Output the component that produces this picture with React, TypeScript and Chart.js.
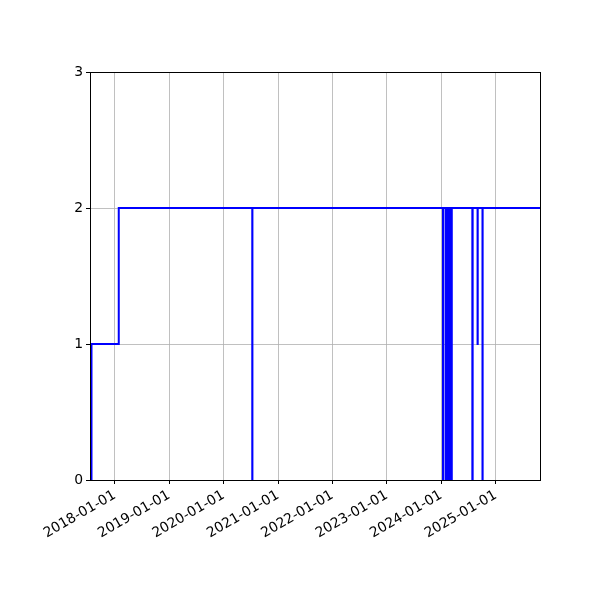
import React, { useEffect, useRef } from 'react';
import { Chart, registerables } from 'chart.js';

Chart.register(...registerables);

// change points: each value holds from its date until the next date
const changeDates = [
  '2017-07-19', '2017-07-29', '2018-01-28',
  '2020-07-12', '2020-07-13',
  '2024-01-13', '2024-01-14',
  '2024-01-31', '2024-02-02', '2024-02-05', '2024-02-08', '2024-02-11', '2024-02-14',
  '2024-02-17', '2024-02-20', '2024-02-23', '2024-02-26', '2024-02-29', '2024-03-03',
  '2024-03-06', '2024-03-08', '2024-03-10', '2024-03-12',
  '2024-07-28', '2024-07-30',
  '2024-09-01', '2024-09-02',
  '2024-10-04', '2024-10-05',
  '2025-10-25',
];
const changeValues = [
  0, 1, 2,
  0, 2,
  0, 2,
  0, 2, 0, 2, 0, 2,
  0, 2, 0, 2, 0, 2,
  0, 2, 0, 2,
  0, 2,
  1, 2,
  0, 2,
  2,
];
const yTicks = [0, 1, 2, 3];
const xTickYears = [2018, 2019, 2020, 2021, 2022, 2023, 2024, 2025];

const DAY = 86400000;
const toDay = (s: string) => {
  const [y, m, d] = s.split('-').map(Number);
  return Date.UTC(y, m - 1, d) / DAY;
};
const fmt = (v: number) => new Date(Math.round(v) * DAY).toISOString().slice(0, 10);

const framePlugin = {
  id: 'frame',
  afterDraw(chart: any) {
    const { ctx, chartArea } = chart;
    const { left, top, right, bottom } = chartArea;
    ctx.save();
    ctx.strokeStyle = '#000';
    ctx.lineWidth = 1;
    ctx.strokeRect(Math.round(left) + 0.5, Math.round(top) + 0.5, Math.round(right - left), Math.round(bottom - top));
    ctx.restore();
  },
};

export default function App() {
  const ref = useRef<HTMLCanvasElement | null>(null);
  useEffect(() => {
    if (!ref.current) return;
    const pts = changeDates.map((d, i) => ({ x: toDay(d), y: changeValues[i] }));
    const font = { family: 'DejaVu Sans', size: 13.9 };
    const chart = new Chart(ref.current, {
      type: 'line',
      data: {
        datasets: [
          {
            data: pts,
            borderColor: '#0000ff',
            borderWidth: 2,
            pointRadius: 0,
            stepped: 'before',
            fill: false,
            tension: 0,
          },
        ],
      },
      options: {
        animation: false,
        responsive: true,
        maintainAspectRatio: false,
        layout: { padding: { top: 72, right: 60, left: 0, bottom: 0 } },
        plugins: { legend: { display: false }, tooltip: { enabled: false } },
        scales: {
          x: {
            type: 'linear',
            bounds: 'data',
            min: toDay(changeDates[0]),
            max: toDay(changeDates[changeDates.length - 1]),
            afterBuildTicks: (s: any) => {
              s.ticks = xTickYears.map((y) => ({ value: Date.UTC(y, 0, 1) / DAY }));
            },
            afterFit: (s: any) => {
              s.height = 120;
            },
            grid: { color: '#b0b0b0', lineWidth: 0.8, tickColor: '#000', tickLength: 4, tickWidth: 1 },
            border: { color: '#000', width: 1 },
            ticks: {
              autoSkip: false,
              minRotation: 30,
              maxRotation: 30,
              padding: 3,
              color: '#000',
              font,
              callback: (v: any) => fmt(Number(v)),
            },
          },
          y: {
            type: 'linear',
            min: 0,
            max: 3,
            afterBuildTicks: (s: any) => {
              s.ticks = yTicks.map((v) => ({ value: v }));
            },
            afterFit: (s: any) => {
              s.width = 90;
            },
            grid: { color: '#b0b0b0', lineWidth: 0.8, tickColor: '#000', tickLength: 4, tickWidth: 1 },
            border: { color: '#000', width: 1 },
            ticks: { padding: 3, color: '#000', font, callback: (v: any) => String(v) },
          },
        },
      },
      plugins: [framePlugin],
    } as any);
    return () => chart.destroy();
  }, []);
  return (
    <div style={{ position: 'fixed', left: 0, top: 0, width: 600, height: 600, background: '#fff' }}>
      <canvas ref={ref} />
    </div>
  );
}
